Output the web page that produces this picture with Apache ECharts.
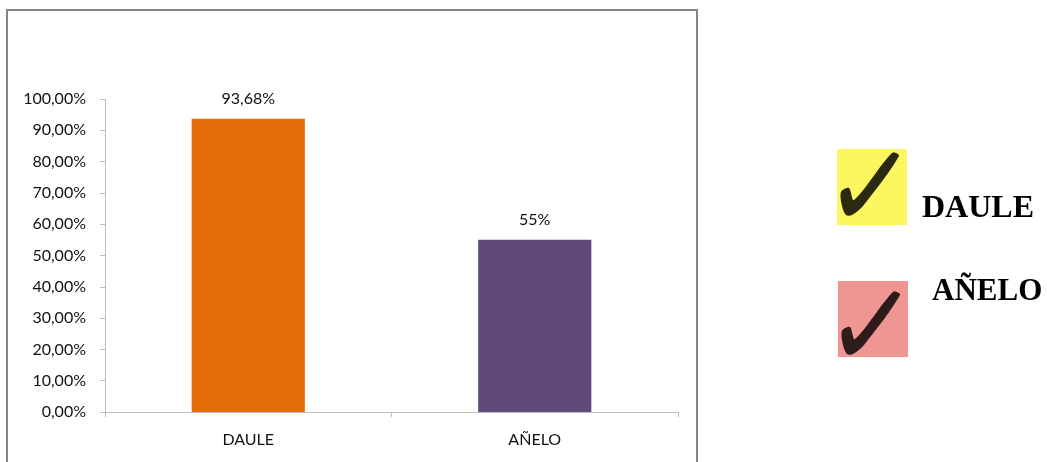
<!DOCTYPE html>
<html><head><meta charset="utf-8">
<script src="https://cdn.jsdelivr.net/npm/echarts@6/dist/echarts.min.js"></script>
<style>html,body{margin:0;padding:0;background:#fff}#c{width:1047px;height:462px}</style>
</head><body><div id="c"></div>
<script>
const categories = ['DAULE', 'AÑELO'];
const values = [93.68, 55];
const valueLabels = ['93,68%', '55%'];
const barColors = ['#e46c0a', '#604a7b'];
const legendNames = ['DAULE', 'AÑELO'];

const chart = echarts.init(document.getElementById('c'));
function check(ox, oy, color) {
  return {
    type: 'polygon', z: 20,
    shape: { points: [[ox+4,oy+43],[ox+12,oy+39],[ox+17,oy+51],[ox+55,oy+4],[ox+62,oy+7],[ox+26,oy+57],[ox+15,oy+66],[ox+9,oy+66],[ox+5,oy+57]], smooth: 0.3 },
    style: { fill: color }
  };
}
chart.setOption({
  animation: false,
  grid: { left: 105, top: 99, right: 369, bottom: 50 },
  xAxis: {
    type: 'category', data: categories,
    axisLine: { lineStyle: { color: '#bfbfbf', width: 1 } },
    axisTick: { show: true, length: 5, lineStyle: { color: '#bfbfbf' } },
    axisLabel: { color: '#111', fontFamily: 'Lato', fontSize: 16, margin: 20 }
  },
  yAxis: {
    type: 'value', min: 0, max: 100, interval: 10,
    axisLine: { show: true, lineStyle: { color: '#bfbfbf', width: 1 } },
    axisTick: { show: true, length: 5, lineStyle: { color: '#bfbfbf' } },
    splitLine: { show: false },
    axisLabel: { color: '#111', fontFamily: 'Lato', fontSize: 16, margin: 19,
      formatter: v => v.toFixed(2).replace('.', ',') + '%' }
  },
  series: [{
    type: 'bar', barWidth: '39.5%',
    data: values.map((v, i) => ({ value: v, itemStyle: { color: barColors[i] } })),
    label: { show: true, position: 'top', distance: 12, color: '#111', fontFamily: 'Lato', fontSize: 16,
      formatter: p => valueLabels[p.dataIndex] }
  }],
  graphic: [
    { type: 'rect', z: 0, shape: { x: 7, y: 10, width: 690, height: 470 }, style: { fill: 'none', stroke: '#868686', lineWidth: 2 } },
    { type: 'rect', shape: { x: 837, y: 149, width: 70, height: 76 }, style: { fill: '#fcf75e' } },
    check(837, 149, '#2b2a10'),
    { type: 'rect', shape: { x: 838, y: 281, width: 70, height: 76 }, style: { fill: '#ef9592' } },
    check(838, 288, '#2e1c1c'),
    { type: 'text', style: { x: 922, y: 225, text: legendNames[0], fill: '#000', font: 'bold 32px "Liberation Serif"', textVerticalAlign: 'bottom', verticalAlign: 'bottom' } },
    { type: 'text', style: { x: 932, y: 307, text: legendNames[1], fill: '#000', font: 'bold 31px "Liberation Serif"', textVerticalAlign: 'bottom', verticalAlign: 'bottom' } }
  ]
});
</script></body></html>
